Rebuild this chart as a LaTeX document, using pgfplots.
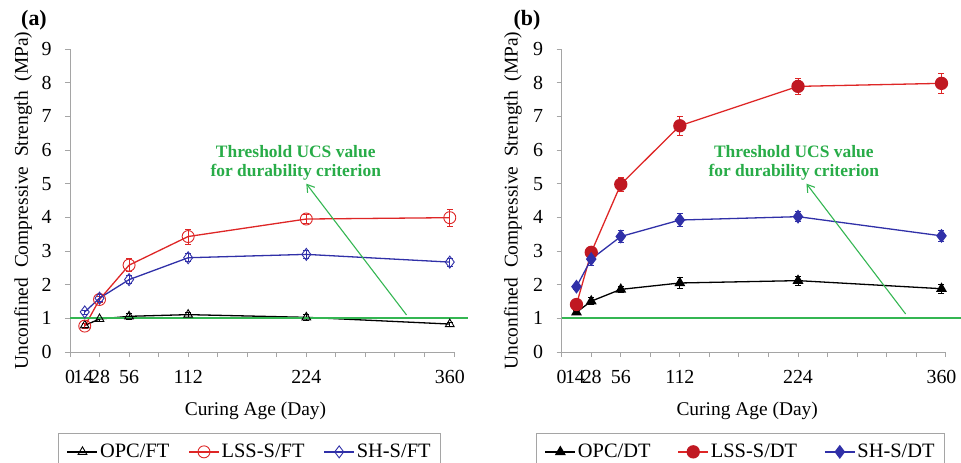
\documentclass[border=0pt]{standalone}
\usepackage{fontspec}
\setmainfont{Liberation Serif}
\usepackage{pgfplots}
\pgfplotsset{compat=1.18}
\usetikzlibrary{arrows.meta}

\definecolor{axgray}{RGB}{165,165,165}
\definecolor{lssred}{RGB}{222,38,38}
\definecolor{lssdark}{RGB}{192,24,34}
\definecolor{shblue}{RGB}{48,48,168}
\definecolor{thrgreen}{RGB}{52,182,82}
\definecolor{txtgreen}{RGB}{40,172,72}

\pgfplotsset{
  panel/.style={
    scale only axis, width=384bp, height=303bp,
    xmin=0, xmax=364, ymin=0, ymax=9,
    axis x line=bottom, axis y line=left,
    axis line style={-, axgray, line width=0.9bp},
    tick style={axgray, line width=0.9bp},
    tick align=outside, major tick length=5bp,
    xtick={0,28,...,364}, xticklabels={},
    extra x ticks={0,14,28,56,112,224,360},
    extra x tick labels={0,{\kern-3bp 14},{\kern1bp 28},56,112,224,360},
    extra x tick style={major tick length=0pt},
    ytick={0,...,9},
    /pgf/number format/assume math mode=true,
    tick label style={font=\fontsize{20}{22}\selectfont},
    xticklabel style={yshift=-15bp},
    yticklabel style={xshift=-10bp},
    label style={font=\fontsize{19.5}{23}\selectfont},
    ylabel={Unconfined\ \ Compressive\ \ Strength\ \ (MPa)},
    xlabel={Curing Age (Day)},
    xlabel style={at={(axis description cs:0.483,-0.193)}, anchor=center},
    clip=false,
    legend columns=3,
    legend cell align=left,
    legend style={font=\fontsize{20.5}{23}\selectfont, draw=axgray, line width=0.9bp,
      anchor=north, inner xsep=8bp, inner ysep=9bp,
      nodes={inner xsep=2bp}},
    legend image code/.code={\draw[mark repeat=2,mark phase=2,#1]
      plot coordinates {(0bp,0bp) (15bp,0bp) (30bp,0bp)};},
    every axis plot/.append style={line width=1.3bp},
    error bars/error bar style={line width=0.8bp},
    error bars/error mark options={rotate=90, mark size=3bp, line width=0.8bp},
  }
}

\begin{document}
\begin{tikzpicture}

% panel (a)
\begin{axis}[panel, at={(70bp,-352bp)}, anchor=south west,
  ylabel style={at={(axis description cs:-0.122,0.5)}, anchor=center},
  legend style={at={(0.468,-0.267)},
    /tikz/every even column/.append style={column sep=17bp}}]
\addplot[black, mark=triangle, mark size=5bp, mark options={solid, line width=0.9bp},
  error bars/.cd, y dir=both, y explicit] coordinates {
  (14,0.79) +- (0,0.05) (28,0.98) +- (0,0.06) (56,1.06) +- (0,0.08)
  (112,1.11) +- (0,0.07) (224,1.03) +- (0,0.10) (360,0.83) +- (0,0.06)};
\addlegendentry{OPC/FT}
\addplot[lssred, mark=o, mark size=6bp, mark options={solid, line width=0.9bp},
  error bars/.cd, y dir=both, y explicit] coordinates {
  (14,0.77) +- (0,0.08) (28,1.56) +- (0,0.10) (56,2.58) +- (0,0.20)
  (112,3.43) +- (0,0.22) (224,3.95) +- (0,0.13) (360,3.99) +- (0,0.25)};
\addlegendentry{LSS-S/FT}
\addplot[shblue, mark=diamond, mark size=6bp, mark options={solid, line width=0.9bp},
  error bars/.cd, y dir=both, y explicit] coordinates {
  (14,1.19) +- (0,0.06) (28,1.60) +- (0,0.10) (56,2.15) +- (0,0.12)
  (112,2.80) +- (0,0.12) (224,2.90) +- (0,0.12) (360,2.67) +- (0,0.12)};
\addlegendentry{SH-S/FT}
\addplot[thrgreen, line width=1.8bp, forget plot] coordinates {(0,1) (377,1)};
\draw[thrgreen, line width=1.1bp, -{Straight Barb[length=7bp, width=9bp]}]
  (axis cs:319,1.1) -- (axis cs:224,5.0);
\node[txtgreen, font=\bfseries\fontsize{17.5}{20}\selectfont, align=center]
  at (axis cs:214,5.62) {Threshold UCS value\\for durability criterion};
\end{axis}

% panel (b)
\begin{axis}[panel, at={(561.7bp,-352bp)}, anchor=south west,
  ylabel style={at={(axis description cs:-0.127,0.5)}, anchor=center},
  legend style={at={(0.466,-0.267)},
    /tikz/every even column/.append style={column sep=25bp}}]
\addplot[black, mark=triangle*, mark size=5bp, mark options={solid},
  error bars/.cd, y dir=both, y explicit] coordinates {
  (14,1.18) +- (0,0.06) (28,1.51) +- (0,0.10) (56,1.86) +- (0,0.08)
  (112,2.05) +- (0,0.17) (224,2.12) +- (0,0.14) (360,1.88) +- (0,0.14)};
\addlegendentry{OPC/DT}
\addplot[lssred, mark=*, mark size=6bp, mark options={solid, fill=lssdark, draw=lssdark},
  error bars/.cd, y dir=both, y explicit] coordinates {
  (14,1.41) +- (0,0.10) (28,2.96) +- (0,0.12) (56,4.98) +- (0,0.22)
  (112,6.72) +- (0,0.28) (224,7.89) +- (0,0.25) (360,7.98) +- (0,0.30)};
\addlegendentry{LSS-S/DT}
\addplot[shblue, mark=diamond*, mark size=6bp, mark options={solid},
  error bars/.cd, y dir=both, y explicit] coordinates {
  (14,1.94) +- (0,0.08) (28,2.76) +- (0,0.20) (56,3.43) +- (0,0.17)
  (112,3.92) +- (0,0.20) (224,4.02) +- (0,0.15) (360,3.45) +- (0,0.17)};
\addlegendentry{SH-S/DT}
\addplot[thrgreen, line width=1.8bp, forget plot] coordinates {(0,1) (382,1)};
\draw[thrgreen, line width=1.1bp, -{Straight Barb[length=7bp, width=9bp]}]
  (axis cs:326,1.13) -- (axis cs:232,5.0);
\node[txtgreen, font=\bfseries\fontsize{17.5}{20}\selectfont, align=center]
  at (axis cs:220,5.62) {Threshold UCS value\\for durability criterion};
\end{axis}

\node[font=\bfseries\fontsize{22}{24}\selectfont] at (34bp,-20bp) {(a)};
\node[font=\bfseries\fontsize{22}{24}\selectfont] at (527bp,-20bp) {(b)};

\pgfresetboundingbox
\path[use as bounding box] (0bp,0bp) rectangle (961bp,-463bp);
\end{tikzpicture}
\end{document}
